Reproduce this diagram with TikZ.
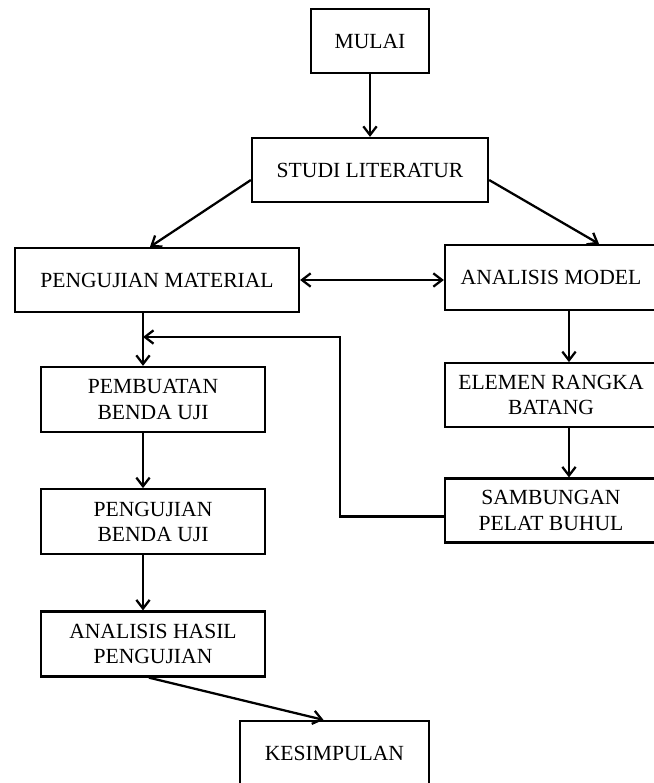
\documentclass[tikz,border=0pt]{standalone}
\usepackage{fontspec}
\setmainfont{Liberation Serif}
\usetikzlibrary{positioning, arrows.meta}

\begin{document}
\begin{tikzpicture}[
        x=0.75pt, y=-0.75pt,
        node distance=41.25pt,
        >={Straight Barb[length=6.5pt,width=10pt]},
        box/.style={rectangle, draw, line width=1.7pt, minimum height=48.75pt, align=center, inner sep=2pt, font=\fontsize{16.2}{19}\selectfont},
        arr/.style={->, line width=1.7pt}
    ]
        \clip (0,0) rectangle (654,783);

        \coordinate (lx) at (143,0);
        \coordinate (rx) at (569,0);
        \coordinate (fb) at (340,337);

        \node[box, minimum width=88.5pt, minimum height=48pt] (mulai) at (370,41) {MULAI};
        \node[box, minimum width=177pt, minimum height=48pt] (studi) at (370,170) {STUDI LITERATUR};
        \node[box, minimum width=213pt, minimum height=48pt] (pm) at (157,280) {PENGUJIAN MATERIAL};
        \node[box, minimum width=159pt] (am) at (551,277.5) {ANALISIS MODEL};

        % kolom kiri
        \node[box, minimum width=168pt] (pembuatan) at (153,399.5) {PEMBUATAN\\BENDA UJI};
        \node[box, minimum width=168pt, below=41.25pt of pembuatan] (pbu) {PENGUJIAN\\BENDA UJI};
        \node[box, minimum width=168pt, below=41.25pt of pbu] (ahp) {ANALISIS HASIL\\PENGUJIAN};
        \node[box, minimum width=141.75pt] (kes) at (334.5,753.5) {KESIMPULAN};

        % kolom kanan
        \node[box, minimum width=159pt, minimum height=48pt, below=38.25pt of am] (elemen) {ELEMEN RANGKA\\BATANG};
        \node[box, minimum width=159pt, minimum height=48pt, below=36.75pt of elemen] (samb) {SAMBUNGAN\\PELAT BUHUL};

        \draw[arr] (mulai) -- (studi);
        \draw[arr] ([yshift=-7.5pt]studi.west) -- ([xshift=-5.25pt]pm.north);
        \draw[arr] ([yshift=-7.5pt]studi.east) -- ([xshift=36pt]am.north);
        \draw[arr, <->] (pm.east) -- (pm.east -| am.west);

        \draw[arr] (pm.south -| lx) -- (pembuatan.north -| lx);
        \draw[arr] (pembuatan.south -| lx) -- (pbu.north -| lx);
        \draw[arr] (pbu.south -| lx) -- (ahp.north -| lx);
        \draw[arr] ([xshift=-3pt]ahp.south) -- ([xshift=-8.25pt]kes.north);

        \draw[arr] (am.south -| rx) -- (elemen.north -| rx);
        \draw[arr] (elemen.south -| rx) -- (samb.north -| rx);
        \draw[arr] ([yshift=-4.5pt]samb.west) -| (fb) -- (fb -| lx);
\end{tikzpicture}
\end{document}
